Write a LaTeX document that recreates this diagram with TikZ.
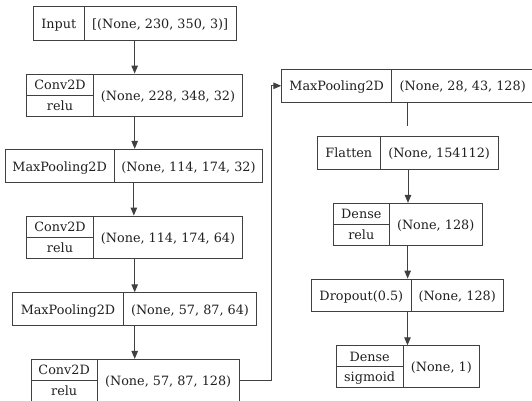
\documentclass[tikz,border=0pt]{standalone}
\usepackage{fontspec}
\setmainfont{DejaVu Serif}
\usetikzlibrary{fit,arrows.meta}
\definecolor{linec}{HTML}{404040}
\definecolor{txtc}{HTML}{202020}
\tikzset{
  frame/.style={draw=linec, line width=0.9pt, inner sep=0pt},
  divline/.style={draw=linec, line width=0.9pt},
  lbl/.style={inner sep=0pt, font=\fontsize{12.8}{14}\selectfont, text=txtc, text height=10pt, text depth=0pt},
  conn/.style={draw=linec, line width=1pt, -{Triangle[length=8pt,width=6.5pt]}},
  plain/.style={draw=linec, line width=1pt},
}
% name, x0, xdiv, x1, y0, y1, left text, right text
\newcommand\layerA[8]{%
  \coordinate (#1nw) at (#2,#5);
  \coordinate (#1se) at (#4,#6);
  \node[frame, fit=(#1nw)(#1se)] (#1) {};
  \draw[divline] (#3,#5) -- (#3,#6);
  \node[lbl] (#1l) at ({(#2+#3)/2},{(#5+#6)/2}) {#7};
  \node[lbl] (#1r) at ({(#3+#4)/2},{(#5+#6)/2}) {#8};
}
% name, x0, xdiv, x1, y0, y1, top text, bottom text, right text
\newcommand\layerB[9]{%
  \coordinate (#1nw) at (#2,#5);
  \coordinate (#1se) at (#4,#6);
  \node[frame, fit=(#1nw)(#1se)] (#1) {};
  \draw[divline] (#3,#5) -- (#3,#6);
  \draw[divline] (#2,{(#5+#6)/2}) -- (#3,{(#5+#6)/2});
  \node[lbl] (#1t) at ({(#2+#3)/2},{(3*#5+#6)/4}) {#7};
  \node[lbl] (#1b) at ({(#2+#3)/2},{(#5+3*#6)/4}) {#8};
  \node[lbl] (#1r) at ({(#3+#4)/2},{(#5+#6)/2}) {#9};
}
\begin{document}
\begin{tikzpicture}[x=1pt,y=-1pt]
  \fill[white] (0,0) rectangle (532,400);
  \useasboundingbox (0,0) rectangle (532,400);
  \clip (0,0) rectangle (532,400);

  \layerA{inp}{33.3}{84.3}{236}{6.7}{40}{Input}{[(None, 230, 350, 3)]}
  \layerB{cva}{26.7}{93.3}{242.7}{74}{116}{Conv2D}{relu}{(None, 228, 348, 32)}
  \layerA{mpa}{5}{114.3}{262.7}{149.3}{182.7}{MaxPooling2D}{(None, 114, 174, 32)}
  \layerB{cvb}{26.7}{93.3}{242.7}{216}{258.3}{Conv2D}{relu}{(None, 114, 174, 64)}
  \layerA{mpb}{12.7}{123.3}{256.7}{292.7}{325.3}{MaxPooling2D}{(None, 57, 87, 64)}
  \layerB{cvc}{31}{97.3}{239}{359.3}{401.3}{Conv2D}{relu}{(None, 57, 87, 128)}

  \layerA{mpc}{281.7}{391.7}{533.7}{69.3}{102.3}{MaxPooling2D}{(None, 28, 43, 128)}
  \layerA{flt}{317.7}{380}{498.3}{136}{169}{Flatten}{(None, 154112)}
  \layerB{dna}{333.3}{389.3}{482}{203.3}{245}{Dense}{relu}{(None, 128)}
  \layerA{drp}{311.7}{411}{503.3}{279}{311.7}{Dropout(0.5)}{(None, 128)}
  \layerB{dnb}{336}{403.3}{479.3}{345.7}{387.3}{Dense}{sigmoid}{(None, 1)}

  \draw[conn] (inp.south) -- (inp.south |- cva.north);
  \draw[conn] (cva.south) -- (cva.south |- mpa.north);
  \draw[conn] (mpa.south) -- (mpa.south |- cvb.north);
  \draw[conn] (cvb.south) -- (cvb.south |- mpb.north);
  \draw[conn] (mpb.south) -- (mpb.south |- cvc.north);

  \coordinate (turn) at (271.3,0);
  \draw[conn] (cvc.east) -| (turn |- mpc.west) -- (mpc.west);

  \coordinate (cutend) at (0,125.7);
  \draw[plain] (mpc.south) -- (mpc.south |- cutend);

  \draw[conn] (flt.south) -- (flt.south |- dna.north);
  \draw[conn] (dna.south) -- (dna.south |- drp.north);
  \draw[conn] (drp.south) -- (drp.south |- dnb.north);
\end{tikzpicture}
\end{document}
